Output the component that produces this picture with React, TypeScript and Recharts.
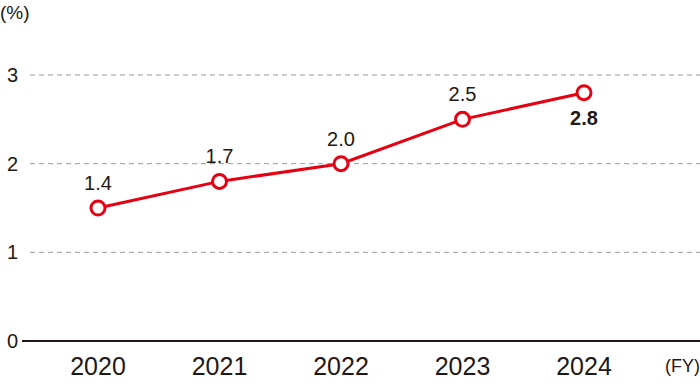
import { LineChart, Line, XAxis, YAxis, CartesianGrid, LabelList } from "recharts";

const years = ["2020", "2021", "2022", "2023", "2024"];
const ratio = [1.5, 1.8, 2.0, 2.5, 2.8];
const ratioLabels = ["1.4", "1.7", "2.0", "2.5", "2.8"];
const yTicks = [0, 1, 2, 3];

const data = years.map((year, i) => ({ year, value: ratio[i], label: ratioLabels[i] }));

const RED = "#e60012";
const INK = "#231815";
const FONT = "'Liberation Sans', Arial, Helvetica, sans-serif";

// last label sits under its point and is bold
function PointLabel(props: any) {
  const { x, y, index } = props;
  const last = index === data.length - 1;
  return (
    <text
      x={x}
      y={last ? y + 32 : y - 18}
      textAnchor="middle"
      fontSize={20}
      fontWeight={last ? 700 : 400}
      fill={INK}
      fontFamily={FONT}
    >
      {ratioLabels[index]}
    </text>
  );
}

function GridLine(props: any) {
  const { x1, x2, y1, y2 } = props;
  if (Math.abs(y1 - 341) < 1) return <g />;
  return <line x1={x1 + 8} x2={x2} y1={y1} y2={y2} stroke="#9a9a9a" strokeWidth={1} strokeDasharray="5 4" />;
}

export default function App() {
  return (
    <div style={{ position: "absolute", left: 0, top: 0, width: 700, height: 388, fontFamily: FONT }}>
      <div style={{ position: "absolute", left: 0, top: 2, fontSize: 19, color: INK }}>(%)</div>
      <div style={{ position: "absolute", right: 0, top: 356, fontSize: 18, color: INK }}>(FY)</div>
      <LineChart width={700} height={388} data={data} margin={{ top: 75, right: 0, bottom: 0, left: 0 }}>
        <CartesianGrid vertical={false} horizontal={(p: any) => <GridLine {...p} />} />
        <XAxis
          dataKey="year"
          height={47}
          padding={{ left: 76, right: 116 }}
          tickSize={0}
          tickMargin={16}
          axisLine={{ stroke: INK, strokeWidth: 2 }}
          tick={{ fontSize: 25, fill: INK, fontFamily: FONT }}
        />
        <YAxis
          domain={[0, 3]}
          ticks={yTicks}
          width={22}
          tickSize={0}
          tickMargin={4}
          axisLine={false}
          tick={{ fontSize: 20, fill: INK, fontFamily: FONT }}
        />
        <Line
          type="linear"
          dataKey="value"
          stroke={RED}
          strokeWidth={3}
          dot={{ r: 7, fill: "#fff", stroke: RED, strokeWidth: 3 }}
          isAnimationActive={false}
        >
          <LabelList dataKey="label" content={<PointLabel />} />
        </Line>
      </LineChart>
    </div>
  );
}
